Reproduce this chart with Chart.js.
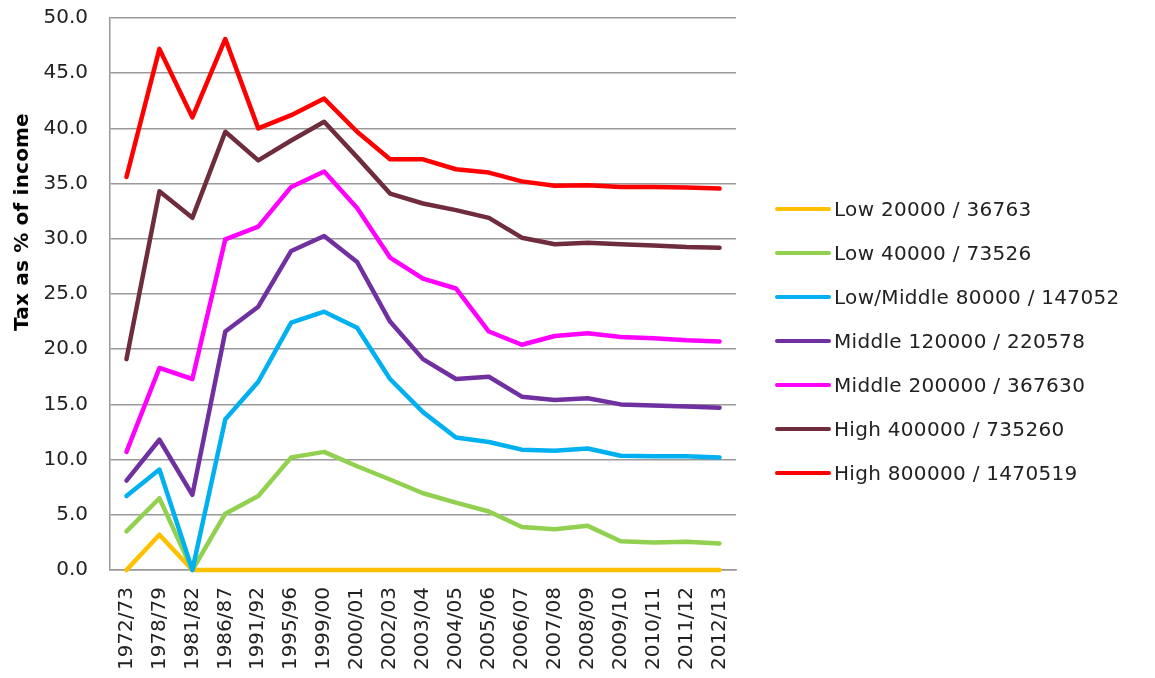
<!DOCTYPE html>
<html>
<head>
<meta charset="utf-8">
<script src="https://cdn.jsdelivr.net/npm/chart.js@4.4.1/dist/chart.umd.min.js"></script>
<style>
  html, body { margin: 0; padding: 0; background: #fff; }
  .wrap { position: relative; width: 1155px; height: 678px; }
  #myChart { position: absolute; left: 0; top: 0; }
  .ytitle {
    position: absolute; left: 21px; top: 222px;
    transform: translate(-50%, -50%) rotate(-90deg);
    font: bold 20px 'DejaVu Sans', sans-serif; color: #000; white-space: nowrap; letter-spacing: 0.2px;
  }
  #legend { position: absolute; left: 775px; top: 187px; }
  .item { height: 44px; display: flex; align-items: center; }
  .swatch { width: 56px; height: 4px; border-radius: 2px; margin-right: 3px; }
  .label { font: 20px 'DejaVu Sans', sans-serif; color: #222; letter-spacing: 0.3px; white-space: nowrap; }
</style>
</head>
<body>
<div class="wrap">
  <canvas id="myChart" width="1155" height="678"></canvas>
  <div class="ytitle">Tax as % of income</div>
  <div id="legend"></div>
</div>
<script>
// tax years on the x axis
const years = ['1972/73', '1978/79', '1981/82', '1986/87', '1991/92', '1995/96', '1999/00', '2000/01',
  '2002/03', '2003/04', '2004/05', '2005/06', '2006/07', '2007/08', '2008/09', '2009/10',
  '2010/11', '2011/12', '2012/13'];

// tax as % of income, one array per income band
const low20000 = [0, 3.2, 0, 0, 0, 0, 0, 0, 0, 0, 0, 0, 0, 0, 0, 0, 0, 0, 0];
const low40000 = [3.5, 6.5, 0, 5.1, 6.7, 10.2, 10.7, 9.4, 8.2, 6.95, 6.1, 5.3, 3.9, 3.7, 4.0, 2.6, 2.5, 2.55, 2.4];
const lowMiddle80000 = [6.7, 9.1, 0, 13.65, 17.05, 22.4, 23.4, 21.95, 17.3, 14.3, 12.0, 11.6, 10.9, 10.8, 11.0, 10.35, 10.3, 10.3, 10.2];
const middle120000 = [8.1, 11.8, 6.8, 21.6, 23.85, 28.9, 30.25, 27.9, 22.5, 19.1, 17.3, 17.5, 15.7, 15.4, 15.55, 15.0, 14.9, 14.8, 14.7];
const middle200000 = [10.7, 18.3, 17.3, 29.95, 31.1, 34.7, 36.1, 32.8, 28.3, 26.4, 25.5, 21.6, 20.4, 21.2, 21.45, 21.1, 21.0, 20.8, 20.7];
const high400000 = [19.1, 34.3, 31.9, 39.7, 37.1, 38.9, 40.6, 37.4, 34.1, 33.2, 32.6, 31.9, 30.1, 29.5, 29.65, 29.5, 29.4, 29.25, 29.2];
const high800000 = [35.6, 47.2, 41.0, 48.1, 40.0, 41.2, 42.7, 39.7, 37.2, 37.2, 36.3, 36.0, 35.2, 34.8, 34.85, 34.7, 34.7, 34.65, 34.55];

const seriesNames = ['Low 20000 / 36763', 'Low 40000 / 73526', 'Low/Middle 80000 / 147052',
  'Middle 120000 / 220578', 'Middle 200000 / 367630', 'High 400000 / 735260', 'High 800000 / 1470519'];
const seriesValues = [low20000, low40000, lowMiddle80000, middle120000, middle200000, high400000, high800000];
const seriesColors = ['#FFC000', '#92D050', '#00B0F0', '#7030A0', '#FF00FF', '#6E2C3C', '#FF0000'];

const yTicks = { min: 0, max: 50, step: 5 };

const FONT = "'DejaVu Sans', sans-serif";

const datasets = seriesNames.map((name, i) => ({
  label: name,
  data: seriesValues[i],
  borderColor: seriesColors[i],
  backgroundColor: seriesColors[i],
  borderWidth: 4.5,
  borderCapStyle: 'round',
  borderJoinStyle: 'round',
  pointRadius: 0,
  tension: 0,
  fill: false,
  clip: 6,
  order: seriesNames.length - i // later series on top, like the original
}));

const chart = new Chart(document.getElementById('myChart'), {
  type: 'line',
  data: { labels: years, datasets },
  options: {
    responsive: false,
    animation: false,
    layout: { padding: { top: 18, right: 419, bottom: 0, left: 0 } },
    plugins: {
      tooltip: { enabled: false },
      legend: { display: false }
    },
    scales: {
      x: {
        offset: true,
        grid: { display: false, drawTicks: false },
        border: { color: '#999', width: 1.5 },
        afterFit: (scale) => {
          scale.height = 108;
          scale.paddingLeft = 0;
          scale.paddingRight = 0;
        },
        ticks: {
          minRotation: 90,
          maxRotation: 90,
          autoSkip: false,
          padding: 17,
          color: '#222',
          font: { family: FONT, size: 20 }
        }
      },
      y: {
        min: yTicks.min,
        max: yTicks.max,
        grid: { color: '#999', lineWidth: 1.5, drawTicks: false },
        border: { color: '#999', width: 1.5 },
        afterFit: (scale) => {
          scale.width = 110;
          scale.paddingTop = 0;
          scale.paddingBottom = 0;
        },
        ticks: {
          stepSize: yTicks.step,
          padding: 22,
          color: '#222',
          font: { family: FONT, size: 20 },
          callback: (value) => value.toFixed(1)
        }
      }
    }
  }
});

// legend built from the chart's own datasets
const legendEl = document.getElementById('legend');
chart.data.datasets.forEach((ds) => {
  const item = document.createElement('div');
  item.className = 'item';
  const sw = document.createElement('span');
  sw.className = 'swatch';
  sw.style.background = ds.borderColor;
  const txt = document.createElement('span');
  txt.className = 'label';
  txt.textContent = ds.label;
  item.appendChild(sw);
  item.appendChild(txt);
  legendEl.appendChild(item);
});
</script>
</body>
</html>
